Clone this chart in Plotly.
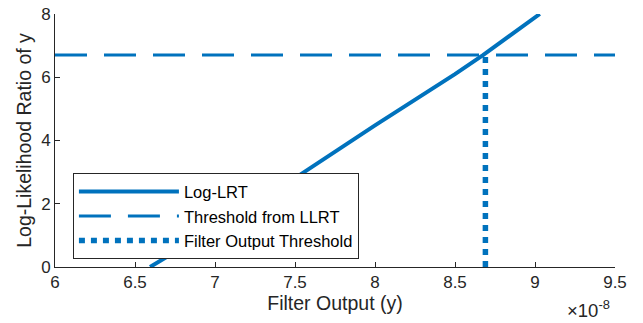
import plotly.graph_objects as go

# Log-likelihood ratio as a function of the matched-filter output
filter_output = [6.594e-8, 7.0e-8, 7.5e-8, 8.0e-8, 8.5e-8, 8.675e-8, 9.03e-8]
log_lrt = [0.0, 1.24, 2.81, 4.48, 6.10, 6.70, 8.0]

llrt_threshold = 6.7           # threshold on the log-likelihood ratio
filter_threshold = 8.69e-8     # corresponding threshold on the filter output

x_range = [6e-8, 9.5e-8]
y_range = [0, 8]
x_ticks = [6e-8, 6.5e-8, 7e-8, 7.5e-8, 8e-8, 8.5e-8, 9e-8, 9.5e-8]
x_tick_text = ["6", "6.5", "7", "7.5", "8", "8.5", "9", "9.5"]
y_ticks = [0, 2, 4, 6, 8]

blue = "#0072BD"
ink = "#262626"
font = "Liberation Sans, Arial, sans-serif"

fig = go.Figure()
fig.add_trace(go.Scatter(
    x=filter_output, y=log_lrt, mode="lines", name="Log-LRT",
    line=dict(color=blue, width=4),
))
fig.add_trace(go.Scatter(
    x=x_range, y=[llrt_threshold, llrt_threshold], mode="lines",
    name="Threshold from LLRT",
    line=dict(color=blue, width=3, dash="32px,17px"),
))
fig.add_trace(go.Scatter(
    x=[filter_threshold, filter_threshold], y=[0, llrt_threshold], mode="lines",
    name="Filter Output Threshold",
    line=dict(color=blue, width=5.5, dash="6px,6px"),
))

axis_common = dict(
    showgrid=False, zeroline=False, showline=True, linecolor=ink, linewidth=1,
    ticks="inside", ticklen=5, tickcolor=ink, tickwidth=1,
    tickfont=dict(family=font, size=17, color=ink), mirror=False,
    automargin=False,
)

fig.update_layout(
    width=643, height=323,
    margin=dict(l=55, r=28, t=14, b=56),
    paper_bgcolor="white", plot_bgcolor="white",
    font=dict(family=font, color=ink),
    xaxis=dict(
        range=x_range, tickvals=x_ticks, ticktext=x_tick_text,
        title=dict(text="Filter Output (y)", font=dict(size=19.5, color=ink), standoff=4),
        **axis_common,
    ),
    yaxis=dict(
        range=y_range, tickvals=y_ticks,
        title=dict(text="Log-Likelihood Ratio of y", font=dict(size=19.5, color=ink), standoff=4),
        **axis_common,
    ),
    legend=dict(
        x=0.032, y=0.37, xanchor="left", yanchor="top",
        bgcolor="white", bordercolor=ink, borderwidth=1,
        font=dict(family=font, size=16.5, color="black"),
        itemwidth=100, tracegroupgap=0,
    ),
    showlegend=True,
)

fig.add_annotation(
    xref="paper", yref="paper", x=0.995, y=-0.222, xanchor="right", yanchor="bottom",
    text="×10<sup>-8</sup>", showarrow=False,
    font=dict(family=font, size=18.5, color=ink),
)

fig.write_html("out.html")
